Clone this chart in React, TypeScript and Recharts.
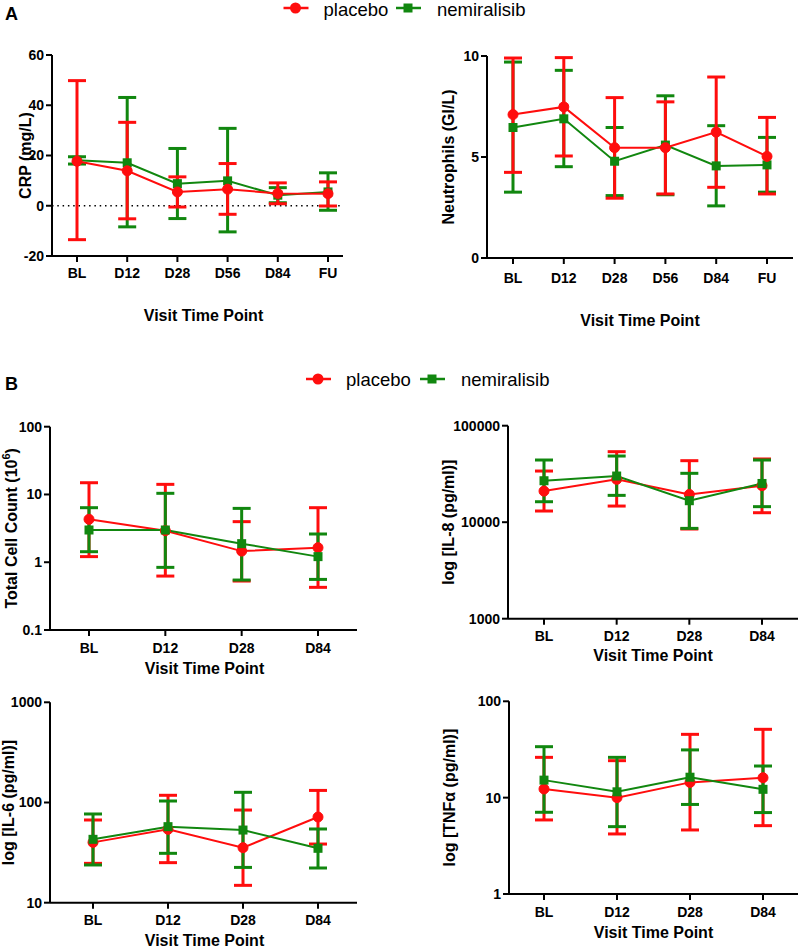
import { LineChart, Line, XAxis, YAxis, ErrorBar, ReferenceLine } from 'recharts';

const RED = '#ff0d0d';
const GREEN = '#11870f';
const FONT = '"Liberation Sans", Arial, sans-serif';

const visitsA = ['BL', 'D12', 'D28', 'D56', 'D84', 'FU'];
const visitsB = ['BL', 'D12', 'D28', 'D84'];

// CRP (mg/L)
const crpPlacebo = [17.7, 13.9, 5.5, 6.6, 4.9, 4.8];
const crpPlaceboLo = [-13.5, -5.2, -0.5, -3.4, 0.8, -0.1];
const crpPlaceboHi = [49.8, 33.2, 11.5, 16.8, 9.1, 9.5];
const crpNemi = [18.1, 17.1, 8.8, 9.9, 4.2, 5.5];
const crpNemiLo = [16.6, -8.4, -5.1, -10.4, 1.2, -1.8];
const crpNemiHi = [19.5, 43.1, 22.8, 30.8, 7.2, 13.1];

// Neutrophils (GI/L)
const neuPlacebo = [7.1, 7.48, 5.46, 5.46, 6.23, 5.03];
const neuPlaceboLo = [4.24, 5.05, 2.96, 3.17, 3.5, 3.17];
const neuPlaceboHi = [9.9, 9.92, 7.94, 7.73, 8.96, 6.96];
const neuNemi = [6.46, 6.89, 4.79, 5.59, 4.56, 4.61];
const neuNemiLo = [3.26, 4.52, 3.09, 3.13, 2.58, 3.26];
const neuNemiHi = [9.7, 9.29, 6.46, 8.03, 6.55, 5.97];

// Total cell count (10^6)
const cellPlacebo = [4.3, 2.92, 1.46, 1.64];
const cellPlaceboLo = [1.21, 0.625, 0.528, 0.426];
const cellPlaceboHi = [14.9, 14.1, 3.97, 6.38];
const cellNemi = [2.99, 2.99, 1.88, 1.21];
const cellNemiLo = [1.43, 0.84, 0.546, 0.558];
const cellNemiHi = [6.38, 10.4, 6.23, 2.61];

// IL-8 (pg/ml)
const il8Placebo = [21000, 27800, 19400, 23900];
const il8PlaceboLo = [13060, 14700, 8500, 12540];
const il8PlaceboHi = [33900, 53800, 43400, 45200];
const il8Nemi = [26900, 30100, 16700, 25200];
const il8NemiLo = [16300, 18970, 8630, 14490];
const il8NemiHi = [44100, 48500, 32100, 44100];

// IL-6 (pg/ml)
const il6Placebo = [40, 54, 35.4, 71.6];
const il6PlaceboLo = [24.7, 25.1, 14.9, 38.5];
const il6PlaceboHi = [66.9, 118, 84.1, 132];
const il6Nemi = [42.9, 57.4, 53.1, 34.9];
const il6NemiLo = [23.8, 31.1, 22.5, 22.2];
const il6NemiHi = [76.8, 103.5, 126.4, 54.4];

// TNFa (pg/ml)
const tnfPlacebo = [12.3, 10, 14.4, 16.1];
const tnfPlaceboLo = [5.87, 4.2, 4.62, 5.12];
const tnfPlaceboHi = [26.2, 24.2, 45.4, 51.2];
const tnfNemi = [15.2, 11.5, 16.3, 12.2];
const tnfNemiLo = [7.05, 5.0, 8.5, 7.0];
const tnfNemiHi = [33.8, 26.2, 31.3, 21.3];

function rows(cats: string[], pm: number[], pl: number[], ph: number[], nm: number[], nl: number[], nh: number[]) {
  return cats.map((visit, i) => ({
    visit,
    placebo: pm[i],
    placeboErr: [pm[i] - pl[i], ph[i] - pm[i]],
    nemiralisib: nm[i],
    nemiralisibErr: [nm[i] - nl[i], nh[i] - nm[i]],
  }));
}

const SquareDot = (p: any) => (
  <rect key={`sq-${p.index}`} x={p.cx - 4.5} y={p.cy - 4.5} width={9} height={9} fill={GREEN} />
);

const axisStyle = { stroke: '#000', strokeWidth: 2 };
const tickStyle = { fill: '#000', fontSize: 14, fontWeight: 'bold', fontFamily: FONT };

function yTitle(text: any, dx: number) {
  return (props: any) => {
    const vb = props.viewBox;
    const cx = vb.x + vb.width / 2 + dx;
    const cy = vb.y + vb.height / 2;
    return (
      <text
        x={cx}
        y={cy}
        transform={`rotate(-90 ${cx} ${cy})`}
        textAnchor="middle"
        dominantBaseline="central"
        fill="#000"
        fontSize={16}
        fontWeight="bold"
        fontFamily={FONT}
      >
        {text}
      </text>
    );
  };
}

interface PanelProps {
  left: number;
  top: number;
  width: number;
  height: number;
  mTop: number;
  mRight: number;
  yWidth: number;
  xHeight: number;
  padL: number;
  padR: number;
  tickGap: number;
  titleGap: number;
  titleDx?: number;
  data: any[];
  log?: boolean;
  domain: number[];
  ticks: number[];
  yLabel: any;
  yLabelDx: number;
  redOnTop: boolean;
  zeroLine?: boolean;
}

function Panel(p: PanelProps) {
  const red = (
    <Line
      key="placebo"
      dataKey="placebo"
      stroke={RED}
      strokeWidth={2}
      dot={{ r: 5, fill: RED, stroke: RED, strokeWidth: 1 }}
      activeDot={false}
      isAnimationActive={false}
    >
      <ErrorBar dataKey="placeboErr" width={9} strokeWidth={3} stroke={RED} direction="y" isAnimationActive={false} />
    </Line>
  );
  const green = (
    <Line
      key="nemiralisib"
      dataKey="nemiralisib"
      stroke={GREEN}
      strokeWidth={2}
      dot={SquareDot}
      activeDot={false}
      isAnimationActive={false}
    >
      <ErrorBar dataKey="nemiralisibErr" width={9} strokeWidth={3} stroke={GREEN} direction="y" isAnimationActive={false} />
    </Line>
  );
  return (
    <div style={{ position: 'absolute', left: p.left, top: p.top }}>
      <LineChart
        width={p.width}
        height={p.height}
        data={p.data}
        margin={{ top: p.mTop, right: p.mRight, bottom: 0, left: 0 }}
      >
        <XAxis
          dataKey="visit"
          scale="point"
          padding={{ left: p.padL, right: p.padR }}
          interval={0}
          height={p.xHeight}
          axisLine={axisStyle}
          tickLine={axisStyle}
          tickSize={6}
          tickMargin={p.tickGap}
          tick={tickStyle}
          label={{
            value: 'Visit Time Point',
            position: 'insideTop',
            offset: p.titleGap,
            dx: p.titleDx ?? 0,
            fill: '#000',
            fontSize: 16,
            fontWeight: 'bold',
            fontFamily: FONT,
          }}
        />
        <YAxis
          type="number"
          scale={p.log ? 'log' : 'linear'}
          domain={p.domain}
          ticks={p.ticks}
          allowDataOverflow
          interval={0}
          width={p.yWidth}
          axisLine={axisStyle}
          tickLine={axisStyle}
          tickSize={6}
          tickMargin={2}
          tick={tickStyle}
          tickFormatter={(v: number) => String(v)}
          label={yTitle(p.yLabel, p.yLabelDx)}
        />
        {p.zeroLine && <ReferenceLine y={0} stroke="#000" strokeWidth={1.5} strokeDasharray="1.5 3.8" />}
        {p.redOnTop ? [green, red] : [red, green]}
      </LineChart>
    </div>
  );
}

function LegendRow({ x1, x2, y, baseline }: { x1: number; x2: number; y: number; baseline: number }) {
  return (
    <g>
      <line x1={x1 - 12} x2={x1 + 13} y1={y} y2={y} stroke={RED} strokeWidth={2.5} />
      <circle cx={x1} cy={y} r={5.5} fill={RED} />
      <text x={x1 + 28} y={baseline} fontSize={18.5} fontFamily={FONT} fill="#000">placebo</text>
      <line x1={x2 - 12} x2={x2 + 13} y1={y} y2={y} stroke={GREEN} strokeWidth={2.5} />
      <rect x={x2 - 4.5} y={y - 4.5} width={9} height={9} fill={GREEN} />
      <text x={x2 + 29} y={baseline} fontSize={18.5} fontFamily={FONT} fill="#000">nemiralisib</text>
    </g>
  );
}

export default function App() {
  const crpData = rows(visitsA, crpPlacebo, crpPlaceboLo, crpPlaceboHi, crpNemi, crpNemiLo, crpNemiHi);
  const neuData = rows(visitsA, neuPlacebo, neuPlaceboLo, neuPlaceboHi, neuNemi, neuNemiLo, neuNemiHi);
  const cellData = rows(visitsB, cellPlacebo, cellPlaceboLo, cellPlaceboHi, cellNemi, cellNemiLo, cellNemiHi);
  const il8Data = rows(visitsB, il8Placebo, il8PlaceboLo, il8PlaceboHi, il8Nemi, il8NemiLo, il8NemiHi);
  const il6Data = rows(visitsB, il6Placebo, il6PlaceboLo, il6PlaceboHi, il6Nemi, il6NemiLo, il6NemiHi);
  const tnfData = rows(visitsB, tnfPlacebo, tnfPlaceboLo, tnfPlaceboHi, tnfNemi, tnfNemiLo, tnfNemiHi);

  return (
    <div style={{ position: 'absolute', left: 0, top: 0, width: 800, height: 948, background: '#fff', overflow: 'hidden', fontFamily: FONT }}>
      <Panel
        left={0} top={0} width={360} height={335} mTop={55} mRight={17} yWidth={52} xHeight={79}
        padL={25} padR={15} tickGap={6} titleGap={54} titleDx={6}
        data={crpData} domain={[-20, 60]} ticks={[-20, 0, 20, 40, 60]}
        yLabel="CRP (mg/L)" yLabelDx={-1} redOnTop zeroLine
      />
      <Panel
        left={400} top={0} width={400} height={340} mTop={56} mRight={7} yWidth={87} xHeight={82}
        padL={26} padR={26} tickGap={9} titleGap={57}
        data={neuData} domain={[0, 10]} ticks={[0, 5, 10]}
        yLabel="Neutrophils (GI/L)" yLabelDx={5} redOnTop
      />
      <Panel
        left={0} top={380} width={370} height={300} mTop={46.7} mRight={13} yWidth={50} xHeight={50}
        padL={39} padR={39} tickGap={7} titleGap={33} titleDx={1}
        data={cellData} log domain={[0.1, 100]} ticks={[0.1, 1, 10, 100]}
        yLabel={<>Total Cell Count (10<tspan baselineShift="super" fontSize={11}>6</tspan>)</>}
        yLabelDx={-13} redOnTop={false}
      />
      <Panel
        left={400} top={380} width={400} height={290} mTop={45.7} mRight={2} yWidth={108} xHeight={51.3}
        padL={36} padR={36} tickGap={6} titleGap={31}
        data={il8Data} log domain={[1000, 100000]} ticks={[1000, 10000, 100000]}
        yLabel="log [IL-8 (pg/ml)]" yLabelDx={-5.5} redOnTop={false}
      />
      <Panel
        left={0} top={660} width={370} height={288} mTop={42.3} mRight={13} yWidth={50} xHeight={45.3}
        padL={43} padR={39} tickGap={6} titleGap={32} titleDx={1}
        data={il6Data} log domain={[10, 1000]} ticks={[10, 100, 1000]}
        yLabel="log [IL-6 (pg/ml)]" yLabelDx={-16.5} redOnTop={false}
      />
      <Panel
        left={400} top={660} width={400} height={288} mTop={41.3} mRight={2} yWidth={109} xHeight={54}
        padL={35} padR={35} tickGap={7} titleGap={33}
        data={tnfData} log domain={[1, 100]} ticks={[1, 10, 100]}
        yLabel="log [TNFα (pg/ml)]" yLabelDx={-5} redOnTop={false}
      />
      <svg width={800} height={948} style={{ position: 'absolute', left: 0, top: 0, pointerEvents: 'none' }}>
        <text x={5} y={20} fontSize={18} fontWeight="bold" fontFamily={FONT} fill="#000">A</text>
        <text x={5} y={390} fontSize={18} fontWeight="bold" fontFamily={FONT} fill="#000">B</text>
        <LegendRow x1={295.5} x2={408} y={8} baseline={15.5} />
        <LegendRow x1={318} x2={432} y={379} baseline={385.5} />
      </svg>
    </div>
  );
}
